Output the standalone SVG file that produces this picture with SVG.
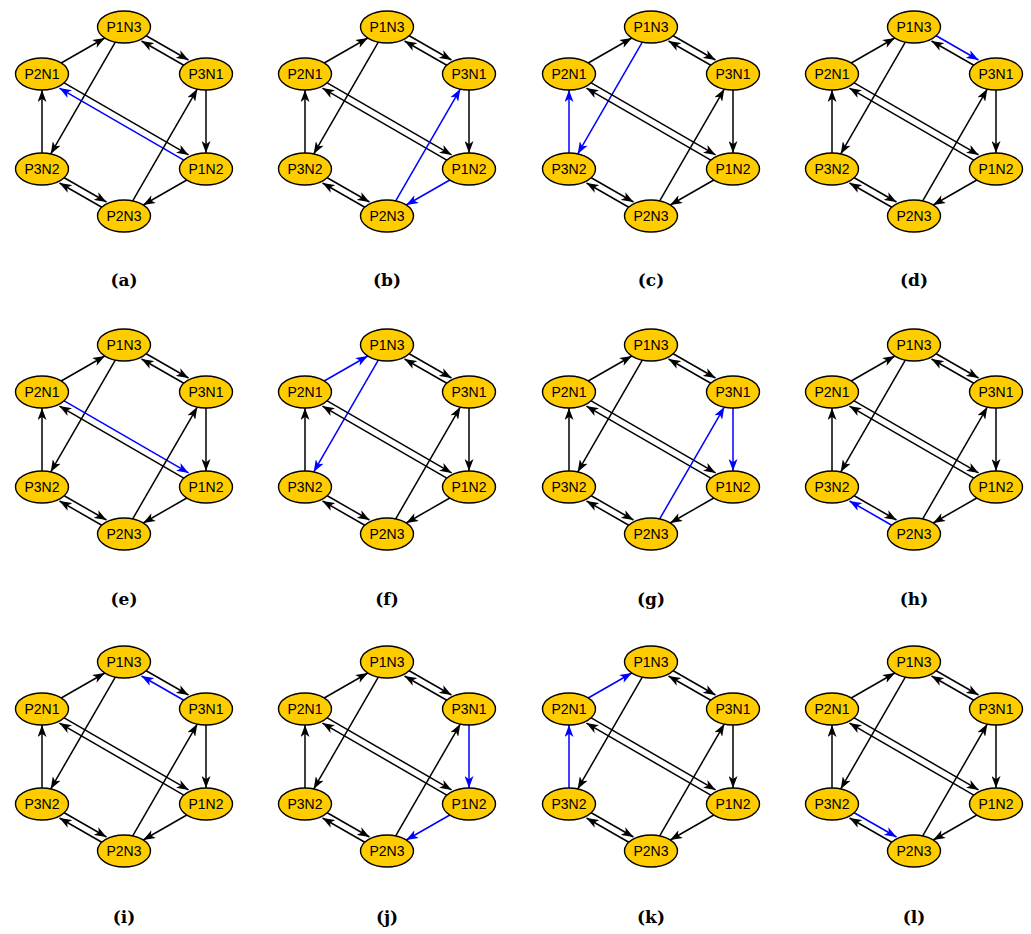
<svg xmlns="http://www.w3.org/2000/svg" width="1031" height="934" viewBox="0 0 1031 934">
<defs>
<marker id="ah" viewBox="0 0 12 9" refX="12" refY="4.5" markerWidth="12" markerHeight="9" markerUnits="userSpaceOnUse" orient="auto"><path d="M0,0 L12,4.5 L0,9 L3.2,4.5 z" fill="#000"/></marker>
<marker id="ahb" viewBox="0 0 12 9" refX="12" refY="4.5" markerWidth="12" markerHeight="9" markerUnits="userSpaceOnUse" orient="auto"><path d="M0,0 L12,4.5 L0,9 L3.2,4.5 z" fill="#0000ff"/></marker>
</defs>
<style>
.e{stroke:#000;stroke-width:1.5;fill:none;marker-end:url(#ah)}
.b{stroke:#0000ff;marker-end:url(#ahb)}
.n ellipse{fill:#ffcc00;stroke:#000;stroke-width:1.4}
.n text{font-family:"Liberation Sans",Arial,sans-serif;font-size:14px;text-anchor:middle;fill:#000}
.cap{font-family:"DejaVu Serif","Liberation Serif",serif;font-weight:bold;font-size:17px;text-anchor:middle;fill:#000}
</style>
<rect width="1031" height="934" fill="#fff"/>

<g id="panel-a" transform="translate(0,0)">
<g id="a-edges">
<path class="e" d="M61.2,63 L104.8,38"/>
<path class="e" d="M144.9,35 L188.5,60"/>
<path class="e" d="M185.1,66 L141.5,41"/>
<path class="e" d="M115.3,42.1 L50.7,153.9"/>
<path class="e" d="M206,90 L206,153"/>
<path class="e" d="M62.9,82.1 L188.6,154.9"/>
<path class="e b" d="M185.1,160.9 L59.4,88.1"/>
<path class="e" d="M42,153 L42,90"/>
<path class="e" d="M132.7,200.9 L197.3,89.1"/>
<path class="e" d="M186.8,180 L143.2,205"/>
<path class="e" d="M62.9,177 L106.5,202"/>
<path class="e" d="M103.1,208 L59.5,183"/>
</g>
<g id="a-P1N3" class="n"><ellipse cx="124" cy="27" rx="26.5" ry="16"/><text x="124" y="32">P1N3</text></g>
<g id="a-P2N1" class="n"><ellipse cx="42" cy="74" rx="26.5" ry="16"/><text x="42" y="79">P2N1</text></g>
<g id="a-P3N1" class="n"><ellipse cx="206" cy="74" rx="26.5" ry="16"/><text x="206" y="79">P3N1</text></g>
<g id="a-P3N2" class="n"><ellipse cx="42" cy="169" rx="26.5" ry="16"/><text x="42" y="174">P3N2</text></g>
<g id="a-P1N2" class="n"><ellipse cx="206" cy="169" rx="26.5" ry="16"/><text x="206" y="174">P1N2</text></g>
<g id="a-P2N3" class="n"><ellipse cx="124" cy="216" rx="26.5" ry="16"/><text x="124" y="221">P2N3</text></g>
<text class="cap" x="124" y="286">(a)</text>
</g>

<g id="panel-b" transform="translate(263,0)">
<g id="b-edges">
<path class="e" d="M61.2,63 L104.8,38"/>
<path class="e" d="M144.9,35 L188.5,60"/>
<path class="e" d="M185.1,66 L141.5,41"/>
<path class="e" d="M115.3,42.1 L50.7,153.9"/>
<path class="e" d="M206,90 L206,153"/>
<path class="e" d="M62.9,82.1 L188.6,154.9"/>
<path class="e" d="M185.1,160.9 L59.4,88.1"/>
<path class="e" d="M42,153 L42,90"/>
<path class="e b" d="M132.7,200.9 L197.3,89.1"/>
<path class="e b" d="M186.8,180 L143.2,205"/>
<path class="e" d="M62.9,177 L106.5,202"/>
<path class="e" d="M103.1,208 L59.5,183"/>
</g>
<g id="b-P1N3" class="n"><ellipse cx="124" cy="27" rx="26.5" ry="16"/><text x="124" y="32">P1N3</text></g>
<g id="b-P2N1" class="n"><ellipse cx="42" cy="74" rx="26.5" ry="16"/><text x="42" y="79">P2N1</text></g>
<g id="b-P3N1" class="n"><ellipse cx="206" cy="74" rx="26.5" ry="16"/><text x="206" y="79">P3N1</text></g>
<g id="b-P3N2" class="n"><ellipse cx="42" cy="169" rx="26.5" ry="16"/><text x="42" y="174">P3N2</text></g>
<g id="b-P1N2" class="n"><ellipse cx="206" cy="169" rx="26.5" ry="16"/><text x="206" y="174">P1N2</text></g>
<g id="b-P2N3" class="n"><ellipse cx="124" cy="216" rx="26.5" ry="16"/><text x="124" y="221">P2N3</text></g>
<text class="cap" x="124" y="286">(b)</text>
</g>

<g id="panel-c" transform="translate(527,0)">
<g id="c-edges">
<path class="e" d="M61.2,63 L104.8,38"/>
<path class="e" d="M144.9,35 L188.5,60"/>
<path class="e" d="M185.1,66 L141.5,41"/>
<path class="e b" d="M115.3,42.1 L50.7,153.9"/>
<path class="e" d="M206,90 L206,153"/>
<path class="e" d="M62.9,82.1 L188.6,154.9"/>
<path class="e" d="M185.1,160.9 L59.4,88.1"/>
<path class="e b" d="M42,153 L42,90"/>
<path class="e" d="M132.7,200.9 L197.3,89.1"/>
<path class="e" d="M186.8,180 L143.2,205"/>
<path class="e" d="M62.9,177 L106.5,202"/>
<path class="e" d="M103.1,208 L59.5,183"/>
</g>
<g id="c-P1N3" class="n"><ellipse cx="124" cy="27" rx="26.5" ry="16"/><text x="124" y="32">P1N3</text></g>
<g id="c-P2N1" class="n"><ellipse cx="42" cy="74" rx="26.5" ry="16"/><text x="42" y="79">P2N1</text></g>
<g id="c-P3N1" class="n"><ellipse cx="206" cy="74" rx="26.5" ry="16"/><text x="206" y="79">P3N1</text></g>
<g id="c-P3N2" class="n"><ellipse cx="42" cy="169" rx="26.5" ry="16"/><text x="42" y="174">P3N2</text></g>
<g id="c-P1N2" class="n"><ellipse cx="206" cy="169" rx="26.5" ry="16"/><text x="206" y="174">P1N2</text></g>
<g id="c-P2N3" class="n"><ellipse cx="124" cy="216" rx="26.5" ry="16"/><text x="124" y="221">P2N3</text></g>
<text class="cap" x="124" y="286">(c)</text>
</g>

<g id="panel-d" transform="translate(790,0)">
<g id="d-edges">
<path class="e" d="M61.2,63 L104.8,38"/>
<path class="e b" d="M144.9,35 L188.5,60"/>
<path class="e" d="M185.1,66 L141.5,41"/>
<path class="e" d="M115.3,42.1 L50.7,153.9"/>
<path class="e" d="M206,90 L206,153"/>
<path class="e" d="M62.9,82.1 L188.6,154.9"/>
<path class="e" d="M185.1,160.9 L59.4,88.1"/>
<path class="e" d="M42,153 L42,90"/>
<path class="e" d="M132.7,200.9 L197.3,89.1"/>
<path class="e" d="M186.8,180 L143.2,205"/>
<path class="e" d="M62.9,177 L106.5,202"/>
<path class="e" d="M103.1,208 L59.5,183"/>
</g>
<g id="d-P1N3" class="n"><ellipse cx="124" cy="27" rx="26.5" ry="16"/><text x="124" y="32">P1N3</text></g>
<g id="d-P2N1" class="n"><ellipse cx="42" cy="74" rx="26.5" ry="16"/><text x="42" y="79">P2N1</text></g>
<g id="d-P3N1" class="n"><ellipse cx="206" cy="74" rx="26.5" ry="16"/><text x="206" y="79">P3N1</text></g>
<g id="d-P3N2" class="n"><ellipse cx="42" cy="169" rx="26.5" ry="16"/><text x="42" y="174">P3N2</text></g>
<g id="d-P1N2" class="n"><ellipse cx="206" cy="169" rx="26.5" ry="16"/><text x="206" y="174">P1N2</text></g>
<g id="d-P2N3" class="n"><ellipse cx="124" cy="216" rx="26.5" ry="16"/><text x="124" y="221">P2N3</text></g>
<text class="cap" x="124" y="286">(d)</text>
</g>

<g id="panel-e" transform="translate(0,318)">
<g id="e-edges">
<path class="e" d="M61.2,63 L104.8,38"/>
<path class="e" d="M144.9,35 L188.5,60"/>
<path class="e" d="M185.1,66 L141.5,41"/>
<path class="e" d="M115.3,42.1 L50.7,153.9"/>
<path class="e" d="M206,90 L206,153"/>
<path class="e b" d="M62.9,82.1 L188.6,154.9"/>
<path class="e" d="M185.1,160.9 L59.4,88.1"/>
<path class="e" d="M42,153 L42,90"/>
<path class="e" d="M132.7,200.9 L197.3,89.1"/>
<path class="e" d="M186.8,180 L143.2,205"/>
<path class="e" d="M62.9,177 L106.5,202"/>
<path class="e" d="M103.1,208 L59.5,183"/>
</g>
<g id="e-P1N3" class="n"><ellipse cx="124" cy="27" rx="26.5" ry="16"/><text x="124" y="32">P1N3</text></g>
<g id="e-P2N1" class="n"><ellipse cx="42" cy="74" rx="26.5" ry="16"/><text x="42" y="79">P2N1</text></g>
<g id="e-P3N1" class="n"><ellipse cx="206" cy="74" rx="26.5" ry="16"/><text x="206" y="79">P3N1</text></g>
<g id="e-P3N2" class="n"><ellipse cx="42" cy="169" rx="26.5" ry="16"/><text x="42" y="174">P3N2</text></g>
<g id="e-P1N2" class="n"><ellipse cx="206" cy="169" rx="26.5" ry="16"/><text x="206" y="174">P1N2</text></g>
<g id="e-P2N3" class="n"><ellipse cx="124" cy="216" rx="26.5" ry="16"/><text x="124" y="221">P2N3</text></g>
<text class="cap" x="124" y="287">(e)</text>
</g>

<g id="panel-f" transform="translate(263,318)">
<g id="f-edges">
<path class="e b" d="M61.2,63 L104.8,38"/>
<path class="e" d="M144.9,35 L188.5,60"/>
<path class="e" d="M185.1,66 L141.5,41"/>
<path class="e b" d="M115.3,42.1 L50.7,153.9"/>
<path class="e" d="M206,90 L206,153"/>
<path class="e" d="M62.9,82.1 L188.6,154.9"/>
<path class="e" d="M185.1,160.9 L59.4,88.1"/>
<path class="e" d="M42,153 L42,90"/>
<path class="e" d="M132.7,200.9 L197.3,89.1"/>
<path class="e" d="M186.8,180 L143.2,205"/>
<path class="e" d="M62.9,177 L106.5,202"/>
<path class="e" d="M103.1,208 L59.5,183"/>
</g>
<g id="f-P1N3" class="n"><ellipse cx="124" cy="27" rx="26.5" ry="16"/><text x="124" y="32">P1N3</text></g>
<g id="f-P2N1" class="n"><ellipse cx="42" cy="74" rx="26.5" ry="16"/><text x="42" y="79">P2N1</text></g>
<g id="f-P3N1" class="n"><ellipse cx="206" cy="74" rx="26.5" ry="16"/><text x="206" y="79">P3N1</text></g>
<g id="f-P3N2" class="n"><ellipse cx="42" cy="169" rx="26.5" ry="16"/><text x="42" y="174">P3N2</text></g>
<g id="f-P1N2" class="n"><ellipse cx="206" cy="169" rx="26.5" ry="16"/><text x="206" y="174">P1N2</text></g>
<g id="f-P2N3" class="n"><ellipse cx="124" cy="216" rx="26.5" ry="16"/><text x="124" y="221">P2N3</text></g>
<text class="cap" x="124" y="287">(f)</text>
</g>

<g id="panel-g" transform="translate(527,318)">
<g id="g-edges">
<path class="e" d="M61.2,63 L104.8,38"/>
<path class="e" d="M144.9,35 L188.5,60"/>
<path class="e" d="M185.1,66 L141.5,41"/>
<path class="e" d="M115.3,42.1 L50.7,153.9"/>
<path class="e b" d="M206,90 L206,153"/>
<path class="e" d="M62.9,82.1 L188.6,154.9"/>
<path class="e" d="M185.1,160.9 L59.4,88.1"/>
<path class="e" d="M42,153 L42,90"/>
<path class="e b" d="M132.7,200.9 L197.3,89.1"/>
<path class="e" d="M186.8,180 L143.2,205"/>
<path class="e" d="M62.9,177 L106.5,202"/>
<path class="e" d="M103.1,208 L59.5,183"/>
</g>
<g id="g-P1N3" class="n"><ellipse cx="124" cy="27" rx="26.5" ry="16"/><text x="124" y="32">P1N3</text></g>
<g id="g-P2N1" class="n"><ellipse cx="42" cy="74" rx="26.5" ry="16"/><text x="42" y="79">P2N1</text></g>
<g id="g-P3N1" class="n"><ellipse cx="206" cy="74" rx="26.5" ry="16"/><text x="206" y="79">P3N1</text></g>
<g id="g-P3N2" class="n"><ellipse cx="42" cy="169" rx="26.5" ry="16"/><text x="42" y="174">P3N2</text></g>
<g id="g-P1N2" class="n"><ellipse cx="206" cy="169" rx="26.5" ry="16"/><text x="206" y="174">P1N2</text></g>
<g id="g-P2N3" class="n"><ellipse cx="124" cy="216" rx="26.5" ry="16"/><text x="124" y="221">P2N3</text></g>
<text class="cap" x="124" y="287">(g)</text>
</g>

<g id="panel-h" transform="translate(790,318)">
<g id="h-edges">
<path class="e" d="M61.2,63 L104.8,38"/>
<path class="e" d="M144.9,35 L188.5,60"/>
<path class="e" d="M185.1,66 L141.5,41"/>
<path class="e" d="M115.3,42.1 L50.7,153.9"/>
<path class="e" d="M206,90 L206,153"/>
<path class="e" d="M62.9,82.1 L188.6,154.9"/>
<path class="e" d="M185.1,160.9 L59.4,88.1"/>
<path class="e" d="M42,153 L42,90"/>
<path class="e" d="M132.7,200.9 L197.3,89.1"/>
<path class="e" d="M186.8,180 L143.2,205"/>
<path class="e" d="M62.9,177 L106.5,202"/>
<path class="e b" d="M103.1,208 L59.5,183"/>
</g>
<g id="h-P1N3" class="n"><ellipse cx="124" cy="27" rx="26.5" ry="16"/><text x="124" y="32">P1N3</text></g>
<g id="h-P2N1" class="n"><ellipse cx="42" cy="74" rx="26.5" ry="16"/><text x="42" y="79">P2N1</text></g>
<g id="h-P3N1" class="n"><ellipse cx="206" cy="74" rx="26.5" ry="16"/><text x="206" y="79">P3N1</text></g>
<g id="h-P3N2" class="n"><ellipse cx="42" cy="169" rx="26.5" ry="16"/><text x="42" y="174">P3N2</text></g>
<g id="h-P1N2" class="n"><ellipse cx="206" cy="169" rx="26.5" ry="16"/><text x="206" y="174">P1N2</text></g>
<g id="h-P2N3" class="n"><ellipse cx="124" cy="216" rx="26.5" ry="16"/><text x="124" y="221">P2N3</text></g>
<text class="cap" x="124" y="287">(h)</text>
</g>

<g id="panel-i" transform="translate(0,635)">
<g id="i-edges">
<path class="e" d="M61.2,63 L104.8,38"/>
<path class="e" d="M144.9,35 L188.5,60"/>
<path class="e b" d="M185.1,66 L141.5,41"/>
<path class="e" d="M115.3,42.1 L50.7,153.9"/>
<path class="e" d="M206,90 L206,153"/>
<path class="e" d="M62.9,82.1 L188.6,154.9"/>
<path class="e" d="M185.1,160.9 L59.4,88.1"/>
<path class="e" d="M42,153 L42,90"/>
<path class="e" d="M132.7,200.9 L197.3,89.1"/>
<path class="e" d="M186.8,180 L143.2,205"/>
<path class="e" d="M62.9,177 L106.5,202"/>
<path class="e" d="M103.1,208 L59.5,183"/>
</g>
<g id="i-P1N3" class="n"><ellipse cx="124" cy="27" rx="26.5" ry="16"/><text x="124" y="32">P1N3</text></g>
<g id="i-P2N1" class="n"><ellipse cx="42" cy="74" rx="26.5" ry="16"/><text x="42" y="79">P2N1</text></g>
<g id="i-P3N1" class="n"><ellipse cx="206" cy="74" rx="26.5" ry="16"/><text x="206" y="79">P3N1</text></g>
<g id="i-P3N2" class="n"><ellipse cx="42" cy="169" rx="26.5" ry="16"/><text x="42" y="174">P3N2</text></g>
<g id="i-P1N2" class="n"><ellipse cx="206" cy="169" rx="26.5" ry="16"/><text x="206" y="174">P1N2</text></g>
<g id="i-P2N3" class="n"><ellipse cx="124" cy="216" rx="26.5" ry="16"/><text x="124" y="221">P2N3</text></g>
<text class="cap" x="124" y="288">(i)</text>
</g>

<g id="panel-j" transform="translate(263,635)">
<g id="j-edges">
<path class="e" d="M61.2,63 L104.8,38"/>
<path class="e" d="M144.9,35 L188.5,60"/>
<path class="e" d="M185.1,66 L141.5,41"/>
<path class="e" d="M115.3,42.1 L50.7,153.9"/>
<path class="e b" d="M206,90 L206,153"/>
<path class="e" d="M62.9,82.1 L188.6,154.9"/>
<path class="e" d="M185.1,160.9 L59.4,88.1"/>
<path class="e" d="M42,153 L42,90"/>
<path class="e" d="M132.7,200.9 L197.3,89.1"/>
<path class="e b" d="M186.8,180 L143.2,205"/>
<path class="e" d="M62.9,177 L106.5,202"/>
<path class="e" d="M103.1,208 L59.5,183"/>
</g>
<g id="j-P1N3" class="n"><ellipse cx="124" cy="27" rx="26.5" ry="16"/><text x="124" y="32">P1N3</text></g>
<g id="j-P2N1" class="n"><ellipse cx="42" cy="74" rx="26.5" ry="16"/><text x="42" y="79">P2N1</text></g>
<g id="j-P3N1" class="n"><ellipse cx="206" cy="74" rx="26.5" ry="16"/><text x="206" y="79">P3N1</text></g>
<g id="j-P3N2" class="n"><ellipse cx="42" cy="169" rx="26.5" ry="16"/><text x="42" y="174">P3N2</text></g>
<g id="j-P1N2" class="n"><ellipse cx="206" cy="169" rx="26.5" ry="16"/><text x="206" y="174">P1N2</text></g>
<g id="j-P2N3" class="n"><ellipse cx="124" cy="216" rx="26.5" ry="16"/><text x="124" y="221">P2N3</text></g>
<text class="cap" x="124" y="288">(j)</text>
</g>

<g id="panel-k" transform="translate(527,635)">
<g id="k-edges">
<path class="e b" d="M61.2,63 L104.8,38"/>
<path class="e" d="M144.9,35 L188.5,60"/>
<path class="e" d="M185.1,66 L141.5,41"/>
<path class="e" d="M115.3,42.1 L50.7,153.9"/>
<path class="e" d="M206,90 L206,153"/>
<path class="e" d="M62.9,82.1 L188.6,154.9"/>
<path class="e" d="M185.1,160.9 L59.4,88.1"/>
<path class="e b" d="M42,153 L42,90"/>
<path class="e" d="M132.7,200.9 L197.3,89.1"/>
<path class="e" d="M186.8,180 L143.2,205"/>
<path class="e" d="M62.9,177 L106.5,202"/>
<path class="e" d="M103.1,208 L59.5,183"/>
</g>
<g id="k-P1N3" class="n"><ellipse cx="124" cy="27" rx="26.5" ry="16"/><text x="124" y="32">P1N3</text></g>
<g id="k-P2N1" class="n"><ellipse cx="42" cy="74" rx="26.5" ry="16"/><text x="42" y="79">P2N1</text></g>
<g id="k-P3N1" class="n"><ellipse cx="206" cy="74" rx="26.5" ry="16"/><text x="206" y="79">P3N1</text></g>
<g id="k-P3N2" class="n"><ellipse cx="42" cy="169" rx="26.5" ry="16"/><text x="42" y="174">P3N2</text></g>
<g id="k-P1N2" class="n"><ellipse cx="206" cy="169" rx="26.5" ry="16"/><text x="206" y="174">P1N2</text></g>
<g id="k-P2N3" class="n"><ellipse cx="124" cy="216" rx="26.5" ry="16"/><text x="124" y="221">P2N3</text></g>
<text class="cap" x="124" y="288">(k)</text>
</g>

<g id="panel-l" transform="translate(790,635)">
<g id="l-edges">
<path class="e" d="M61.2,63 L104.8,38"/>
<path class="e" d="M144.9,35 L188.5,60"/>
<path class="e" d="M185.1,66 L141.5,41"/>
<path class="e" d="M115.3,42.1 L50.7,153.9"/>
<path class="e" d="M206,90 L206,153"/>
<path class="e" d="M62.9,82.1 L188.6,154.9"/>
<path class="e" d="M185.1,160.9 L59.4,88.1"/>
<path class="e" d="M42,153 L42,90"/>
<path class="e" d="M132.7,200.9 L197.3,89.1"/>
<path class="e" d="M186.8,180 L143.2,205"/>
<path class="e b" d="M62.9,177 L106.5,202"/>
<path class="e" d="M103.1,208 L59.5,183"/>
</g>
<g id="l-P1N3" class="n"><ellipse cx="124" cy="27" rx="26.5" ry="16"/><text x="124" y="32">P1N3</text></g>
<g id="l-P2N1" class="n"><ellipse cx="42" cy="74" rx="26.5" ry="16"/><text x="42" y="79">P2N1</text></g>
<g id="l-P3N1" class="n"><ellipse cx="206" cy="74" rx="26.5" ry="16"/><text x="206" y="79">P3N1</text></g>
<g id="l-P3N2" class="n"><ellipse cx="42" cy="169" rx="26.5" ry="16"/><text x="42" y="174">P3N2</text></g>
<g id="l-P1N2" class="n"><ellipse cx="206" cy="169" rx="26.5" ry="16"/><text x="206" y="174">P1N2</text></g>
<g id="l-P2N3" class="n"><ellipse cx="124" cy="216" rx="26.5" ry="16"/><text x="124" y="221">P2N3</text></g>
<text class="cap" x="124" y="288">(l)</text>
</g>
</svg>
